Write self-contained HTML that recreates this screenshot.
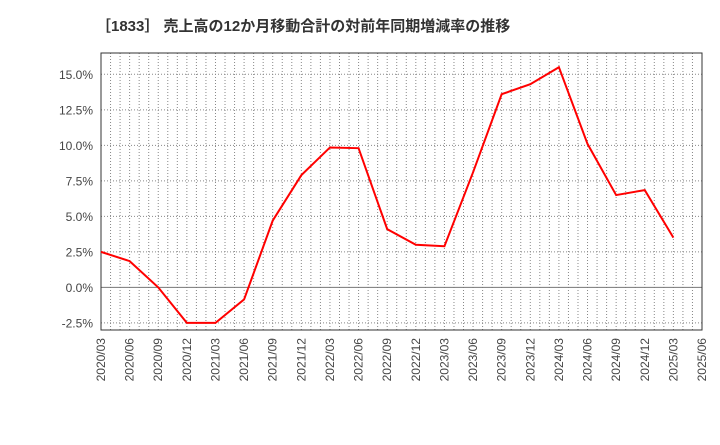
<!DOCTYPE html>
<html><head><meta charset="utf-8"><style>
body{margin:0;background:#fff;font-family:"Liberation Sans","Noto Sans CJK JP",sans-serif}
</style></head><body>
<svg width="720" height="440" xmlns="http://www.w3.org/2000/svg">
<text x="96" y="31" font-size="15" font-weight="bold" fill="#333" font-family="Liberation Sans, Noto Sans CJK JP, sans-serif">［1833］ 売上高の12か月移動合計の対前年同期増減率の推移</text>
<g id="grid"></g><g id="axes"></g>
<path id="line" fill="none" stroke="#ff0000" stroke-width="2"/>
</svg>
<script>
const categories=["2020/03","2020/06","2020/09","2020/12","2021/03","2021/06","2021/09","2021/12","2022/03","2022/06","2022/09","2022/12","2023/03","2023/06","2023/09","2023/12","2024/03","2024/06","2024/09","2024/12","2025/03","2025/06"];
const values=[2.5,1.85,0.0,-2.5,-2.5,-0.85,4.7,7.9,9.85,9.8,4.1,3.0,2.9,8.1,13.6,14.3,15.5,10.1,6.5,6.85,3.5];
const yTicks=[-2.5,0,2.5,5,7.5,10,12.5,15];
const L=101,R=702,T=53,B=330,ymin=-3.0,ymax=16.5;
const x=i=>L+(R-L)*i/(categories.length-1);
const y=v=>B-(v-ymin)/(ymax-ymin)*(B-T);
const NS="http://www.w3.org/2000/svg";
const g=document.getElementById('grid'),a=document.getElementById('axes');
function mk(p,tag,at){const e=document.createElementNS(NS,tag);for(const k in at)e.setAttribute(k,at[k]);p.appendChild(e);return e;}
const months=(categories.length-1)*3;
for(let m=1;m<months;m++){const xx=L+(R-L)*m/months;
const l=mk(g,'line',{x1:xx,x2:xx,y1:T,y2:B,stroke:'#888','stroke-dasharray':'1,2','stroke-width':1});

}
yTicks.forEach(v=>{const yy=y(v);
const l=mk(g,'line',{x1:L,x2:R,y1:yy,y2:yy,stroke:v===0?'#777':'#888','stroke-dasharray':v===0?'none':'1,2','stroke-width':1});


const t=mk(a,'text',{x:L-8,y:yy+4.5,'text-anchor':'end','font-size':12,fill:'#444'});t.textContent=v.toFixed(1)+'%';

});
categories.forEach((c,i)=>{const t=mk(a,'text',{transform:`translate(${x(i)+4},${B+8}) rotate(-90)`,'text-anchor':'end','font-size':12,fill:'#444'});t.textContent=c;

});
const fr=mk(a,'rect',{x:L,y:T,width:R-L,height:B-T,fill:'none',stroke:'#333','stroke-width':1});


document.getElementById('line').setAttribute('d',values.map((v,i)=>(i?'L':'M')+x(i)+','+y(v)).join(''));
</script>
</body></html>
